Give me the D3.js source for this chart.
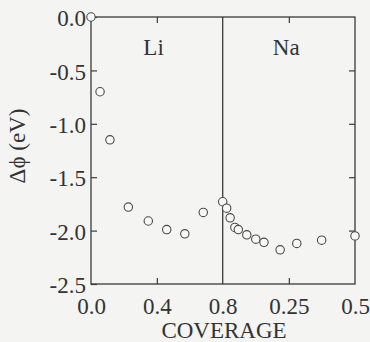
<!DOCTYPE html>
<html>
<head>
<meta charset="utf-8">
<script src="https://cdn.jsdelivr.net/npm/d3@7"></script>
<style>
  html, body { margin: 0; padding: 0; background: #f4f4f2; }
  svg { display: block; }
  text { font-family: "Liberation Serif", "Times New Roman", serif; fill: #333; }
</style>
</head>
<body>
<svg id="chart" width="370" height="342"></svg>
<script>
// ---- data ----
const liCoverage = [0, 0.055, 0.115, 0.227, 0.348, 0.46, 0.57, 0.682, 0.8];
const liDphi     = [0, -0.70, -1.15, -1.78, -1.91, -1.99, -2.03, -1.83, -1.73];
const naCoverage = [0.015, 0.028, 0.046, 0.059, 0.091, 0.125, 0.156, 0.217, 0.28, 0.374, 0.5];
const naDphi     = [-1.79, -1.88, -1.97, -1.99, -2.04, -2.08, -2.11, -2.18, -2.12, -2.09, -2.05];
const yTickValues = [0, -0.5, -1.0, -1.5, -2.0, -2.5];
const yTickLabels = ["0.0", "-0.5", "-1.0", "-1.5", "-2.0", "-2.5"];
const liTickValues = [0, 0.4, 0.8];
const liTickLabels = ["0.0", "0.4", "0.8"];
const naTickValues = [0.25, 0.5];
const naTickLabels = ["0.25", "0.5"];
const panelLabels = ["Li", "Na"];
const xTitle = "COVERAGE";
const yTitle = "Δϕ (eV)";

// ---- layout ----
const L = 91, R = 355, T = 17, B = 284, MID = 222.7;
const svg = d3.select("#chart");
const ink = "#3a3a3a";

const y = d3.scaleLinear().domain([0, -2.5]).range([T, B]);
const xLi = d3.scaleLinear().domain([0, 0.8]).range([L, MID]);
const xNa = d3.scaleLinear().domain([0, 0.5]).range([MID, R]);

// left axis (ticks inward)
const leftAxis = d3.axisLeft(y).tickValues(yTickValues)
  .tickFormat((d, i) => yTickLabels[i]).tickSizeInner(-6).tickSizeOuter(0).tickPadding(5);
const gL = svg.append("g").attr("transform", `translate(${L},0)`).call(leftAxis);
// right axis (ticks inward, no labels)
const rightAxis = d3.axisRight(y).tickValues(yTickValues.slice(1, -1))
  .tickFormat("").tickSizeInner(-6).tickSizeOuter(0);
const gR = svg.append("g").attr("transform", `translate(${R},0)`).call(rightAxis);

// bottom axes
const bottomLi = d3.axisBottom(xLi).tickValues(liTickValues)
  .tickFormat((d, i) => liTickLabels[i]).tickSizeInner(0).tickSizeOuter(0).tickPadding(14);
const gBL = svg.append("g").attr("transform", `translate(0,${B})`).call(bottomLi);
const bottomNa = d3.axisBottom(xNa).tickValues(naTickValues)
  .tickFormat((d, i) => naTickLabels[i]).tickSizeInner(0).tickSizeOuter(0).tickPadding(14);
const gBN = svg.append("g").attr("transform", `translate(0,${B})`).call(bottomNa);

// inward minor ticks on bottom & top
const bTickLi = d3.axisBottom(xLi).tickValues([0.4]).tickFormat("").tickSizeInner(-6).tickSizeOuter(0);
const bTickNa = d3.axisBottom(xNa).tickValues([0.25]).tickFormat("").tickSizeInner(-6).tickSizeOuter(0);
const tTickLi = d3.axisTop(xLi).tickValues([0.4]).tickFormat("").tickSizeInner(-6).tickSizeOuter(0);
const tTickNa = d3.axisTop(xNa).tickValues([0.25]).tickFormat("").tickSizeInner(-6).tickSizeOuter(0);
[svg.append("g").attr("transform", `translate(0,${B})`).call(bTickLi),
 svg.append("g").attr("transform", `translate(0,${B})`).call(bTickNa),
 svg.append("g").attr("transform", `translate(0,${T})`).call(tTickLi),
 svg.append("g").attr("transform", `translate(0,${T})`).call(tTickNa)].forEach(g => {
   g.select(".domain").remove();
 });

svg.selectAll(".domain").remove();
svg.selectAll(".tick line").attr("stroke", ink).attr("stroke-width", 1.2);
svg.selectAll(".tick text").style("font-family", '"Liberation Serif", "Times New Roman", serif')
  .style("font-size", "23px").attr("fill", "#333");
gL.selectAll(".tick text").attr("dy", "0.38em");

// frame
svg.append("rect").attr("x", L).attr("y", T).attr("width", R - L).attr("height", B - T)
  .attr("fill", "none").attr("stroke", ink).attr("stroke-width", 1.3);
// divider
svg.append("line").attr("x1", xLi(0.8)).attr("x2", xLi(0.8)).attr("y1", T).attr("y2", B)
  .attr("stroke", ink).attr("stroke-width", 1.3);

// panel labels
svg.append("text").attr("x", xLi(0.38)).attr("y", 55).attr("text-anchor", "middle")
  .style("font-size", "23px").text(panelLabels[0]);
svg.append("text").attr("x", xNa(0.24)).attr("y", 55).attr("text-anchor", "middle")
  .style("font-size", "23px").text(panelLabels[1]);

// titles
svg.append("text").attr("x", 224).attr("y", 338).attr("text-anchor", "middle")
  .style("font-size", "23px").text(xTitle);
svg.append("text").attr("transform", "translate(17,146) rotate(-90)")
  .attr("text-anchor", "middle").attr("dominant-baseline", "central")
  .style("font-size", "23px").text(yTitle);

// points
const mark = (sel) => sel.attr("r", 4.2).attr("fill", "#f8f8f6")
  .attr("stroke", "#4a4a4a").attr("stroke-width", 1.1);
svg.append("g").selectAll("circle").data(liCoverage.map((c, i) => [c, liDphi[i]]))
  .join("circle").attr("cx", d => xLi(d[0])).attr("cy", d => y(d[1])).call(mark);
svg.append("g").selectAll("circle").data(naCoverage.map((c, i) => [c, naDphi[i]]))
  .join("circle").attr("cx", d => xNa(d[0])).attr("cy", d => y(d[1])).call(mark);
</script>
</body>
</html>
